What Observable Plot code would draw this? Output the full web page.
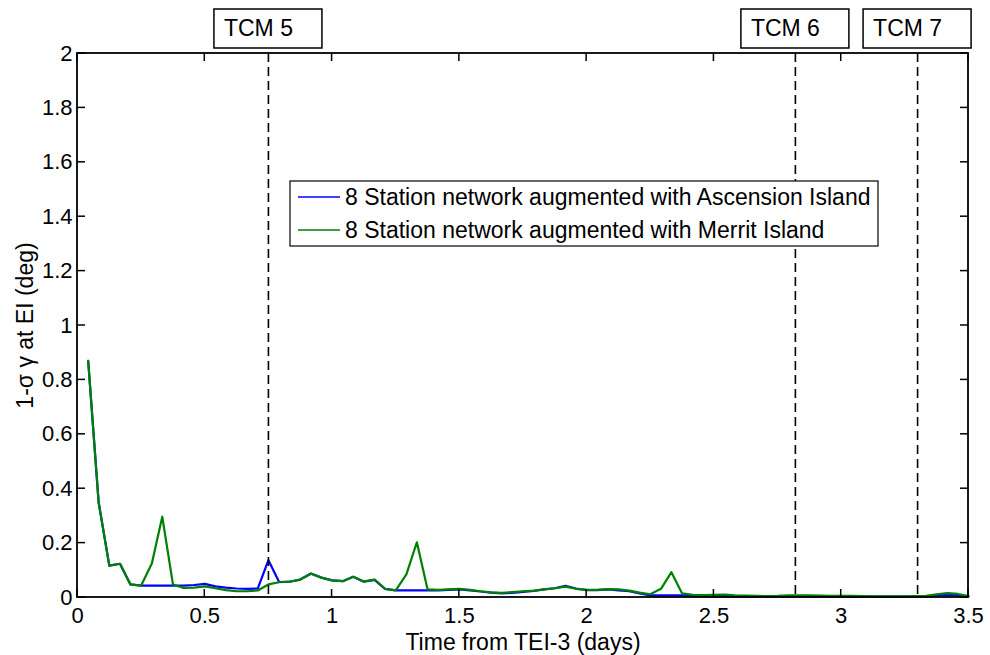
<!DOCTYPE html>
<html><head><meta charset="utf-8">
<script src="https://cdn.jsdelivr.net/npm/d3@7"></script>
<script src="https://cdn.jsdelivr.net/npm/@observablehq/plot@0.6"></script>
<style>
body{margin:0;background:#fff}
#chart svg{font-family:"Liberation Sans",Arial,sans-serif;background:#fff}
</style>
</head><body><div id="chart"></div>
<script>
// Time (days from TEI-3), hourly samples
const timeDays = [0.042,0.083,0.125,0.167,0.208,0.250,0.292,0.333,0.375,0.417,
  0.458,0.500,0.542,0.583,0.625,0.667,0.708,0.750,0.792,0.833,
  0.875,0.917,0.958,1.000,1.042,1.083,1.125,1.167,1.208,1.250,
  1.292,1.333,1.375,1.417,1.458,1.500,1.542,1.583,1.625,1.667,
  1.708,1.750,1.792,1.833,1.875,1.917,1.958,2.000,2.042,2.083,
  2.125,2.167,2.208,2.250,2.292,2.333,2.375,2.417,2.458,2.500,
  2.542,2.583,2.625,2.667,2.708,2.750,2.792,2.833,2.875,2.917,
  2.958,3.000,3.042,3.083,3.125,3.167,3.208,3.250,3.292,3.333,
  3.375,3.417,3.458,3.500];
const ascension = [0.870,0.350,0.117,0.124,0.048,0.044,0.044,0.044,0.044,0.044,
  0.046,0.050,0.041,0.036,0.033,0.032,0.033,0.137,0.057,0.058,
  0.066,0.088,0.073,0.063,0.060,0.076,0.058,0.065,0.032,0.026,
  0.026,0.026,0.026,0.026,0.028,0.030,0.026,0.022,0.018,0.015,
  0.017,0.021,0.024,0.030,0.034,0.043,0.033,0.027,0.027,0.030,
  0.026,0.023,0.015,0.008,0.008,0.008,0.008,0.006,0.005,0.005,
  0.005,0.004,0.004,0.004,0.003,0.003,0.004,0.004,0.004,0.004,
  0.003,0.003,0.003,0.003,0.003,0.003,0.003,0.003,0.003,0.004,
  0.008,0.010,0.008,0.004];
const merrit = [0.870,0.350,0.117,0.124,0.048,0.044,0.125,0.297,0.048,0.035,
  0.036,0.041,0.034,0.027,0.023,0.023,0.026,0.048,0.056,0.058,
  0.066,0.087,0.073,0.063,0.060,0.076,0.059,0.066,0.032,0.026,
  0.085,0.203,0.030,0.028,0.030,0.032,0.028,0.023,0.019,0.017,
  0.020,0.023,0.025,0.030,0.034,0.040,0.032,0.028,0.028,0.031,
  0.030,0.025,0.018,0.012,0.032,0.093,0.015,0.010,0.009,0.010,
  0.011,0.008,0.007,0.006,0.005,0.006,0.008,0.008,0.008,0.007,
  0.006,0.006,0.006,0.005,0.004,0.004,0.004,0.004,0.005,0.006,
  0.012,0.016,0.013,0.005];
const seriesNames = ["8 Station network augmented with Ascension Island",
                     "8 Station network augmented with Merrit Island"];
const seriesColors = ["#0000ff", "#008000"];
const tcmTimes = [0.75, 2.82, 3.3];
const tcmLabels = ["TCM 5", "TCM 6", "TCM 7"];
const xTicks = [0, 0.5, 1, 1.5, 2, 2.5, 3, 3.5];
const yTicks = [0, 0.2, 0.4, 0.6, 0.8, 1, 1.2, 1.4, 1.6, 1.8, 2];
const xTitle = "Time from TEI-3 (days)";
const yTitle = "1-\u03c3 \u03b3 at EI (deg)";

const rows = [];
timeDays.forEach((t, i) => {
  rows.push({t, v: ascension[i], s: seriesNames[0]});
  rows.push({t, v: merrit[i], s: seriesNames[1]});
});

const FONT = 23;
const TICKFONT = 22;

function frameAndTicks(index, scales, values, dim) {
  const g = d3.create("svg:g");
  const l = dim.marginLeft, t = dim.marginTop;
  const r = dim.width - dim.marginRight, b = dim.height - dim.marginBottom;
  const tk = 8;
  for (const xv of xTicks) {
    const px = scales.x(xv);
    g.append("line").attr("x1", px).attr("x2", px).attr("y1", b).attr("y2", b - tk);
    g.append("line").attr("x1", px).attr("x2", px).attr("y1", t).attr("y2", t + tk);
  }
  for (const yv of yTicks) {
    const py = scales.y(yv);
    g.append("line").attr("y1", py).attr("y2", py).attr("x1", l).attr("x2", l + tk);
    g.append("line").attr("y1", py).attr("y2", py).attr("x1", r).attr("x2", r - tk);
  }
  g.selectAll("line").attr("stroke", "black").attr("stroke-width", 1.5);
  g.append("rect").attr("x", l).attr("y", t).attr("width", r - l).attr("height", b - t)
    .attr("fill", "none").attr("stroke", "black").attr("stroke-width", 1.8);
  return g.node();
}

function tcmBoxes(index, scales, values, dim) {
  const g = d3.create("svg:g").attr("text-anchor", "start");
  tcmTimes.forEach((tv, i) => {
    const cx = scales.x(tv);
    g.append("rect").attr("x", cx - 54).attr("y", 9).attr("width", 108).attr("height", 39)
      .attr("fill", "white").attr("stroke", "black").attr("stroke-width", 1.5);
    g.append("text").attr("x", cx - 44).attr("y", 36).attr("font-size", FONT)
      .attr("text-anchor", "start").attr("fill", "black").text(tcmLabels[i]);
  });
  return g.node();
}

function legendBox(index, scales, values, dim) {
  const g = d3.create("svg:g").attr("text-anchor", "start");
  const x0 = 290, y0 = 181, w = 588, h = 65;
  g.append("rect").attr("x", x0).attr("y", y0).attr("width", w).attr("height", h)
    .attr("fill", "white").attr("stroke", "black").attr("stroke-width", 1.2);
  seriesNames.forEach((name, i) => {
    const cy = y0 + 16 + i * 33;
    g.append("line").attr("x1", x0 + 8).attr("x2", x0 + 50).attr("y1", cy).attr("y2", cy)
      .attr("stroke", scales.color(name)).attr("stroke-width", 1.5);
    g.append("text").attr("x", x0 + 55).attr("y", cy + 8).attr("font-size", FONT)
      .attr("text-anchor", "start").attr("fill", "black").text(name);
  });
  return g.node();
}

const chart = Plot.plot({
  width: 990,
  height: 655,
  marginLeft: 77,
  marginRight: 22,
  marginTop: 53,
  marginBottom: 58,
  style: {fontFamily: "Liberation Sans, Arial, sans-serif", fontSize: TICKFONT + "px", color: "black", background: "white"},
  x: {domain: [0, 3.5]},
  y: {domain: [0, 2]},
  color: {domain: seriesNames, range: seriesColors},
  marks: [
    Plot.axisX({ticks: xTicks, tickSize: 0, tickPadding: 10, tickFormat: d => String(d), label: null, fontSize: TICKFONT}),
    Plot.axisY({ticks: yTicks, tickSize: 0, tickPadding: 5, tickFormat: d => String(d), label: null, fontSize: TICKFONT}),
    Plot.line(rows, {x: "t", y: "v", z: "s", stroke: "s", strokeWidth: 2.2}),
    Plot.ruleX(tcmTimes, {x: d => d, stroke: "black", strokeWidth: 1.6, strokeDasharray: "9,5"}),
    frameAndTicks,
    legendBox,
    tcmBoxes,
    Plot.text([xTitle], {frameAnchor: "bottom", dy: 52, text: d => d, fontSize: FONT, fill: "black", textAnchor: "middle"}),
    Plot.text([yTitle], {frameAnchor: "left", dx: -52, rotate: -90, text: d => d, fontSize: FONT, fill: "black", textAnchor: "middle"})
  ]
});
document.getElementById("chart").appendChild(chart);
</script>
</body></html>
